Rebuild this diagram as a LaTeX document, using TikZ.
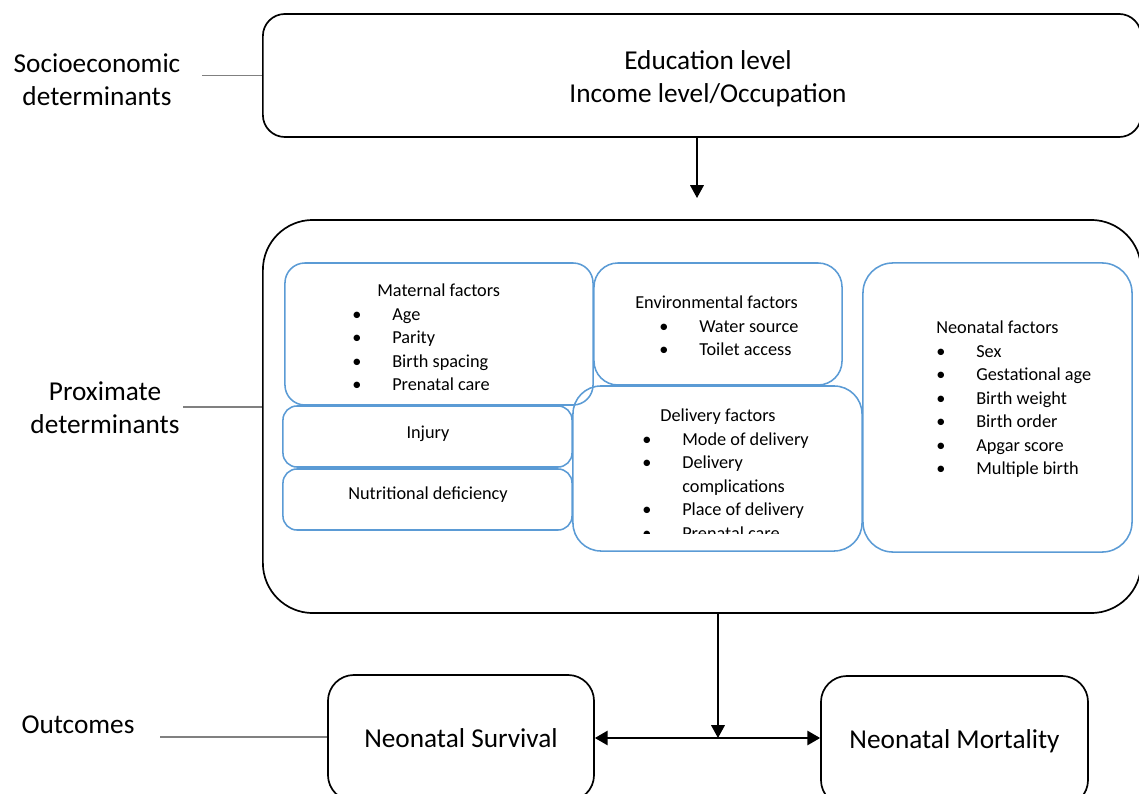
\documentclass[tikz,border=0pt]{standalone}
\usepackage{fontspec}
\setmainfont{Carlito}
\usepackage{tikz}
\usetikzlibrary{arrows.meta,positioning}
\usepackage{xcolor}

\definecolor{factorblue}{RGB}{91,155,213}
\definecolor{linkgray}{RGB}{128,128,128}
\newcommand{\bigtext}{\fontsize{19.4}{23.5}\selectfont}
\newcommand{\smalltext}{\fontsize{13}{16.65}\selectfont}
\newcommand{\itm}[1]{\makebox[1cm][l]{\textbullet}#1}

\tikzset{
  groupbox/.style={draw, line width=1.2pt, inner sep=0pt},
  factorbox/.style={draw=factorblue, line width=1.1pt, inner sep=0pt},
  factortext/.style={anchor=north west, inner sep=0pt, align=left, font=\smalltext},
  levellabel/.style={align=center, font=\bigtext},
  link/.style={draw=linkgray, line width=1pt},
  arr/.style={-{Triangle[length=0.32cm,width=0.34cm]}, line width=1pt},
  twoarr/.style={{Triangle[length=0.32cm,width=0.36cm]}-{Triangle[length=0.32cm,width=0.36cm]}, line width=1.2pt}
}

\begin{document}
\begin{tikzpicture}[x=0.025cm, y=-0.025cm]
\useasboundingbox (0,0) rectangle (1139,794);
\clip (0,0) rectangle (1139,794);

% Socioeconomic level
\node[groupbox, rounded corners=0.55cm, minimum width=21.95cm, minimum height=3.075cm] (socio) at (702,75.5) {};
\node[levellabel] (sociotxt) at (708,79) {Education level\\Income level/Occupation};
\node[levellabel] (sociolabel) at (97,80) {Socioeconomic\\determinants};
\coordinate (sociotick) at (202,75.5);
\draw[link] (sociotick) -- (socio.west);

% Proximate level
\node[groupbox, rounded corners=1.25cm, minimum width=21.95cm, minimum height=9.825cm] (proximate) at (702,416.5) {};
\node[levellabel] (proxlabel) at (105,408) {Proximate\\determinants};
\coordinate (proxtick) at (183,407);
\draw[link] (proxtick) -- (proxtick -| proximate.west);

\coordinate (topend) at (697,198);
\draw[arr] (socio.south -| topend) -- (topend);

% Factor boxes
\node[factorbox, rounded corners=0.5cm, minimum width=7.7cm, minimum height=3.55cm] (maternal) at (439,334) {};
\node[factorbox, rounded corners=0.6cm, minimum width=6.2cm, minimum height=3.05cm] (environ) at (718,324) {};
\node[factorbox, rounded corners=0.75cm, minimum width=6.725cm, minimum height=7.225cm] (neonatal) at (997.5,407.5) {};
\node[factorbox, rounded corners=0.35cm, minimum width=7.225cm, minimum height=1.525cm] (injury) at (427.5,436.5) {};
\node[factorbox, rounded corners=0.35cm, minimum width=7.225cm, minimum height=1.525cm] (nutrition) at (427.5,499.5) {};
\node[factorbox, rounded corners=0.7cm, minimum width=7.225cm, minimum height=4.125cm] (delivery) at (717.5,468.5) {};

\node[factortext] (maternaltxt) at (352,284) {\hspace*{0.625cm}Maternal factors\\\itm{Age}\\\itm{Parity}\\\itm{Birth spacing}\\\itm{Prenatal care}};
\node[factortext] (environtxt) at (635,296) {Environmental factors\\\hspace*{0.6cm}\itm{Water source}\\\hspace*{0.6cm}\itm{Toilet access}};
\node[factortext] (neonataltxt) at (936,321) {Neonatal factors\\\itm{Sex}\\\itm{Gestational age}\\\itm{Birth weight}\\\itm{Birth order}\\\itm{Apgar score}\\\itm{Multiple birth}};
\node[font=\smalltext] (injurytxt) at (428,434) {Injury};
\node[font=\smalltext] (nutritiontxt) at (428,495) {Nutritional deficiency};
\begin{scope}
  \clip (573,386) rectangle (862,533);
  \node[factortext] (deliverytxt) at (642,409) {\hspace*{0.45cm}Delivery factors\\\itm{Mode of delivery}\\\itm{Delivery}\\\hspace*{1cm}complications\\\itm{Place of delivery}\\\itm{Prenatal care}};
\end{scope}

% Outcomes
\node[groupbox, rounded corners=0.65cm, minimum width=6.65cm, minimum height=3.15cm, font=\bigtext] (survival) at (461,738) {Neonatal Survival};
\node[groupbox, rounded corners=0.65cm, minimum width=6.675cm, minimum height=3.25cm, font=\bigtext] (mortality) at (954.5,741) {Neonatal Mortality};
\node[levellabel] (outlabel) at (78,725) {Outcomes};
\coordinate (outtick) at (160,737);
\draw[link] (outtick) -- (outtick -| survival.west);

\coordinate (midend) at (718,738);
\draw[arr] (proximate.south -| midend) -- (midend);
\draw[twoarr] (survival.east |- midend) -- (mortality.west |- midend);

\end{tikzpicture}
\end{document}
